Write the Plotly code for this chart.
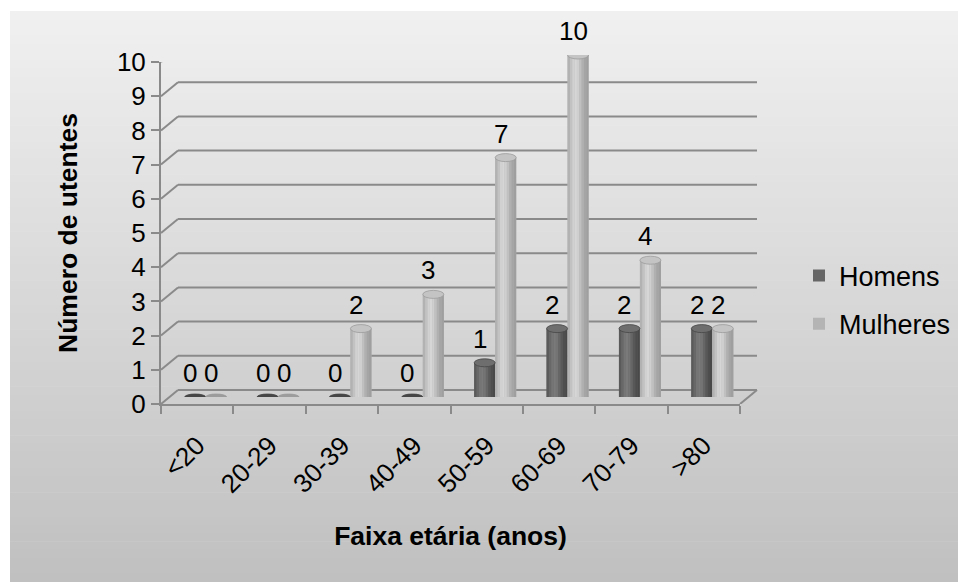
import math
import plotly.graph_objects as go

# ---- data -------------------------------------------------------------
categories = ["<20", "20-29", "30-39", "40-49", "50-59", "60-69", "70-79", ">80"]
homens = [0, 0, 0, 0, 1, 2, 2, 2]
mulheres = [0, 0, 2, 3, 7, 10, 4, 2]
y_ticks = list(range(0, 11))

series = [
    # name, values, legend colour, edge colour, highlight colour, cap colour
    ("Homens", homens, "#666666", (70, 70, 70), (122, 122, 122), "#6e6e6e"),
    ("Mulheres", mulheres, "#b4b4b4", (156, 156, 156), (214, 214, 214), "#c4c4c4"),
]

# ---- geometry (pixels) -------------------------------------------------
W, H = 958, 582
FONT = "Liberation Sans, Arial, sans-serif"
FRONT_L, FRONT_R = 161, 740       # front edge of the floor
FRONT_Y0, FRONT_Y10 = 404, 62     # front positions of 0 and 10
DEPTH_X, DEPTH_Y = 17, 14         # front -> back wall offset
MID_X, MID_Y = 8.5, 7             # front -> plane of the columns
BAR_W = 0.29                      # column width in category units
N_STRIPS = 9                      # vertical strips used to shade a column
GRID = "#8a8a8a"
FS = 26
FS_TITLE = 26.5


def px(x):
    return x / W


def py(y):
    return 1 - y / H


fig = go.Figure()

# ---- gradient panel behind everything -----------------------------------
shapes = []
n_bands = 70
top, bottom = 11, H
for i in range(n_bands):
    t = i / (n_bands - 1)
    g = round(240 - t * (240 - 192))
    y_a = top + (bottom - top) * i / n_bands
    y_b = top + (bottom - top) * (i + 1) / n_bands + 0.6
    shapes.append(dict(type="rect", xref="paper", yref="paper",
                       x0=px(10), x1=1, y0=py(y_a), y1=py(min(y_b, H)),
                       fillcolor=f"rgb({g},{g},{g})", line_width=0, layer="below"))

# ---- 3-D style walls: back gridlines and depth diagonals -----------------
for k in y_ticks:
    shapes.append(dict(type="line", xref="paper", yref="y2", ysizemode="pixel",
                       yanchor=k, x0=px(FRONT_L + DEPTH_X), x1=px(FRONT_R + DEPTH_X),
                       y0=DEPTH_Y, y1=DEPTH_Y, line=dict(color=GRID, width=2),
                       layer="below"))
    shapes.append(dict(type="line", xref="paper", yref="y2", ysizemode="pixel",
                       yanchor=k, x0=px(FRONT_L), x1=px(FRONT_L + DEPTH_X),
                       y0=0, y1=DEPTH_Y, line=dict(color=GRID, width=2),
                       layer="below"))
shapes.append(dict(type="line", xref="paper", yref="y2", ysizemode="pixel",
                   yanchor=0, x0=px(FRONT_R), x1=px(FRONT_R + DEPTH_X),
                   y0=0, y1=DEPTH_Y, line=dict(color=GRID, width=2), layer="below"))


def shade(edge, hi, t):
    # cylinder-like brightness across the column
    w = math.exp(-((t - 0.38) / 0.33) ** 2)
    c = [round(e + (h - e) * w) for e, h in zip(edge, hi)]
    return f"rgb({c[0]},{c[1]},{c[2]})"


# ---- columns ---------------------------------------------------------------
for s_idx, (name, vals, legend_col, edge, hi, cap) in enumerate(series):
    base_off = -BAR_W if s_idx == 0 else 0.0
    # full-width base column (also provides the legend swatch)
    fig.add_trace(go.Bar(x=categories, y=vals, name=name, xaxis="x", yaxis="y",
                         offset=base_off, width=BAR_W,
                         marker=dict(color=legend_col, line_width=0),
                         legendgroup=name, hoverinfo="x+y+name"))
    for j in range(N_STRIPS):
        t = (j + 0.5) / N_STRIPS
        fig.add_trace(go.Bar(x=categories, y=vals, xaxis="x", yaxis="y",
                             offset=base_off + j * BAR_W / N_STRIPS,
                             width=BAR_W / N_STRIPS * 1.02,
                             marker=dict(color=shade(edge, hi, t), line_width=0),
                             showlegend=False, hoverinfo="skip"))
    centre = base_off + BAR_W / 2
    half_px = BAR_W * (FRONT_R - FRONT_L) / len(categories) / 2
    edge_col = f"rgb({edge[0]},{edge[1]},{edge[2]})"
    for i, v in enumerate(vals):
        # rounded bottom of the column
        shapes.append(dict(type="circle", xref="x", yref="y",
                           xsizemode="pixel", ysizemode="pixel",
                           xanchor=i + centre, yanchor=0,
                           x0=-half_px, x1=half_px, y0=-3, y1=3,
                           fillcolor=edge_col, line_width=0, layer="below"))
        # elliptical top cap
        shapes.append(dict(type="circle", xref="x", yref="y",
                           xsizemode="pixel", ysizemode="pixel",
                           xanchor=i + centre, yanchor=v,
                           x0=-half_px, x1=half_px,
                           y0=-4 if v > 0 else -3, y1=4 if v > 0 else 3,
                           fillcolor=cap if v > 0 else edge_col,
                           line=dict(color=edge_col, width=0.8), layer="above"))

# front axes carry the ticks and labels
fig.add_trace(go.Scatter(x=categories, y=homens, xaxis="x2", yaxis="y2",
                         mode="markers", marker=dict(opacity=0),
                         showlegend=False, hoverinfo="skip"))

# ---- value labels ----------------------------------------------------------
annotations = []
for s_idx, (name, vals, *_rest) in enumerate(series):
    shift = -15.5 if s_idx == 0 else 5.5
    for cat, v in zip(categories, vals):
        annotations.append(dict(x=cat, y=v, xref="x", yref="y", text=str(v),
                                showarrow=False, xshift=shift, yshift=24,
                                font=dict(size=FS, color="black", family=FONT)))

fig.update_layout(
    template="none",
    width=W, height=H,
    margin=dict(l=0, r=0, t=0, b=0, pad=0, autoexpand=False),
    paper_bgcolor="white",
    plot_bgcolor="rgba(0,0,0,0)",
    barmode="overlay",
    shapes=shapes,
    annotations=annotations,
    font=dict(family=FONT, color="black"),
    xaxis=dict(domain=[px(FRONT_L + MID_X), px(FRONT_R + MID_X)], anchor="y",
               type="category", categoryorder="array", categoryarray=categories,
               range=[-0.5, len(categories) - 0.5], visible=False, automargin=False),
    yaxis=dict(domain=[py(FRONT_Y0 - MID_Y), py(FRONT_Y10 - MID_Y)], anchor="x",
               range=[0, 10], visible=False, automargin=False),
    xaxis2=dict(domain=[px(FRONT_L), px(FRONT_R)], anchor="y2", automargin=False,
                type="category", categoryorder="array", categoryarray=categories,
                range=[-0.5, len(categories) - 0.5],
                showline=True, linecolor=GRID, linewidth=2,
                ticks="outside", ticklen=8, tickwidth=2, tickcolor=GRID,
                tickson="boundaries", tickangle=-45, ticklabelstandoff=14,
                tickfont=dict(size=FS, color="black"), showgrid=False, zeroline=False,
                title=dict(text="<b>Faixa etária (anos)</b>", standoff=29,
                           font=dict(size=FS_TITLE, color="black"))),
    yaxis2=dict(domain=[py(FRONT_Y0), py(FRONT_Y10)], anchor="x2", automargin=False,
                range=[0, 10], tickvals=y_ticks, showline=True, linecolor=GRID,
                linewidth=2, ticks="outside", ticklen=8, tickwidth=2,
                tickcolor=GRID, showgrid=False, zeroline=False,
                tickfont=dict(size=FS, color="black"),
                title=dict(text="<b>Número de utentes</b>", standoff=32,
                           font=dict(size=FS_TITLE, color="black"))),
    legend=dict(x=px(799), y=py(300), xanchor="left", yanchor="middle",
                bgcolor="rgba(0,0,0,0)", borderwidth=0,
                font=dict(size=FS + 1, color="black"),
                tracegroupgap=10, traceorder="grouped"),
    showlegend=True,
)

fig.write_html("out.html")
